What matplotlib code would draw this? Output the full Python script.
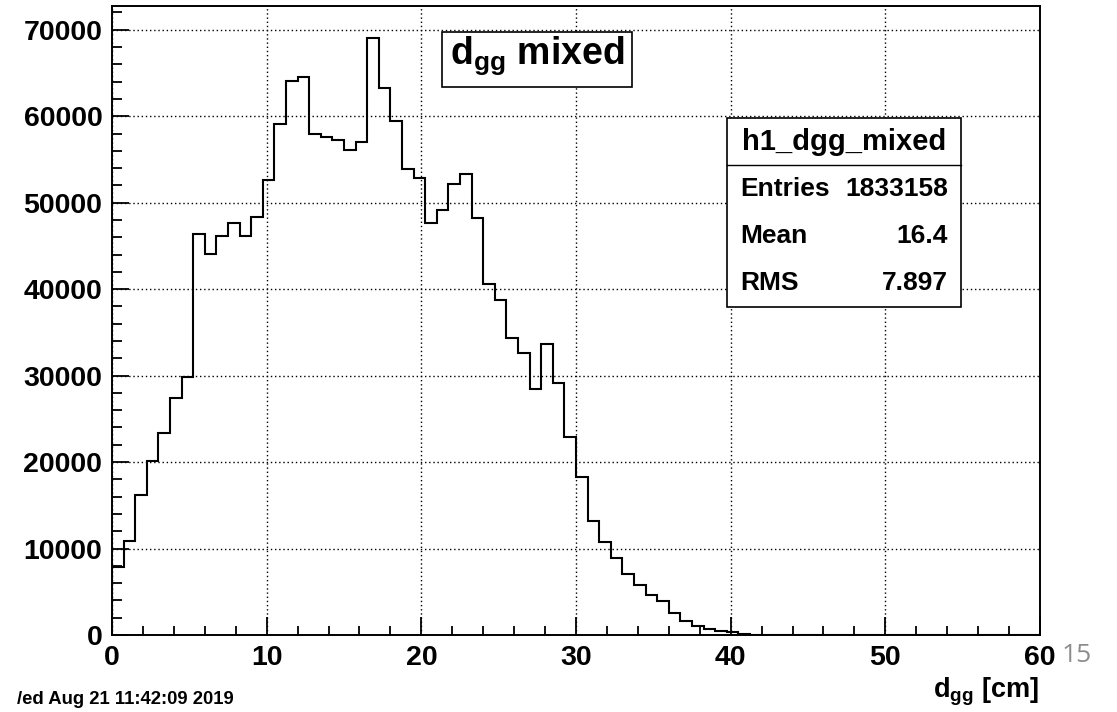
import matplotlib
matplotlib.use("Agg")
import matplotlib.pyplot as plt
import numpy as np
from matplotlib.patches import Rectangle
from matplotlib.ticker import MultipleLocator

# histogram h1_dgg_mixed: 80 bins on [0, 60]
X_MIN, X_MAX, N_BINS = 0.0, 60.0, 80
COUNTS = [
    7900, 10900, 16150, 20150, 23400, 27400, 29800, 46400, 44100, 46200,
    47700, 46200, 48300, 52600, 59100, 64100, 64500, 57900, 57600, 57200,
    56100, 57000, 69100, 63300, 59500, 53900, 52900, 47700, 49200, 52200,
    53300, 48200, 40600, 38800, 34300, 32600, 28400, 33700, 29100, 22900,
    18300, 13200, 10700, 8900, 7100, 5750, 4600, 3950, 2500, 1650,
    1080, 700, 500, 300, 150, 50, 0, 0, 0, 0,
    0, 0, 0, 0, 0, 0, 0, 0, 0, 0,
    0, 0, 0, 0, 0, 0, 0, 0, 0, 0,
]
Y_MAX = 72750

STATS_NAME = "h1_dgg_mixed"
STATS_ROWS = [("Entries", "1833158"), ("Mean", "16.4"), ("RMS", "7.897")]
TITLE = r"$\mathbf{d}_{\mathbf{gg}}$ mixed"
XLABEL = r"$\mathbf{d}_{\mathbf{gg}}$ [cm]"
DATE = "/ed Aug 21 11:42:09 2019"
PAGE = "15"

W, H = 1117, 712
FONT = "Liberation Sans"

plt.rcParams["font.family"] = FONT
plt.rcParams["mathtext.fontset"] = "custom"
plt.rcParams["mathtext.bf"] = f"{FONT}:bold"
plt.rcParams["mathtext.rm"] = f"{FONT}:bold"


def fx(px):
    return px / W


def fy(py):
    return 1 - py / H


fig = plt.figure(figsize=(W / 100, H / 100), dpi=100)
ax = fig.add_axes([fx(112), fy(635), fx(1040) - fx(112), fy(6) - fy(635)])

edges = np.linspace(X_MIN, X_MAX, N_BINS + 1)
ax.stairs(COUNTS, edges, baseline=0, color="black", lw=1.5, zorder=3)

ax.set_xlim(X_MIN, X_MAX)
ax.set_ylim(0, Y_MAX)
ax.xaxis.set_major_locator(MultipleLocator(10))
ax.xaxis.set_minor_locator(MultipleLocator(2))
ax.yaxis.set_major_locator(MultipleLocator(10000))
ax.yaxis.set_minor_locator(MultipleLocator(2000))
ax.tick_params(axis="both", which="both", direction="in", width=1.3,
               labelsize=20.5, pad=7)
ax.tick_params(axis="x", which="major", length=13)
ax.tick_params(axis="x", which="minor", length=6.5)
ax.tick_params(axis="y", which="major", length=12)
ax.tick_params(axis="y", which="minor", length=7.5)
for lab in ax.get_xticklabels() + ax.get_yticklabels():
    lab.set_fontweight("bold")
for sp in ax.spines.values():
    sp.set_linewidth(1.4)
ax.grid(True, which="major", color="black", lw=1.0, ls=(0, (1, 2)))
ax.set_axisbelow(True)

# title box
fig.patches.append(Rectangle((fx(442), fy(87)), fx(632) - fx(442), fy(32) - fy(87),
                             transform=fig.transFigure, facecolor="white",
                             edgecolor="black", lw=1.2, zorder=5))
fig.text(fx(537), fy(56), TITLE, fontsize=27, fontweight="bold",
         ha="center", va="center", zorder=6)

# stats box
fig.patches.append(Rectangle((fx(727), fy(307)), fx(961) - fx(727), fy(118) - fy(307),
                             transform=fig.transFigure, facecolor="white",
                             edgecolor="black", lw=1.2, zorder=5))
fig.lines.append(plt.Line2D([fx(727), fx(961)], [fy(165), fy(165)],
                            transform=fig.transFigure, color="black", lw=1.0,
                            zorder=6))
fig.text(fx(844), fy(142), STATS_NAME, fontsize=21, fontweight="bold",
         ha="center", va="center", zorder=6)
for i, (name, val) in enumerate(STATS_ROWS):
    yy = 189 + i * 47
    fig.text(fx(740), fy(yy), name, fontsize=19, fontweight="bold",
             ha="left", va="center", zorder=6)
    fig.text(fx(948), fy(yy), val, fontsize=19, fontweight="bold",
             ha="right", va="center", zorder=6)

# axis label, date stamp and slide page number
fig.text(fx(1039), fy(692), XLABEL, fontsize=19.5, fontweight="bold",
         ha="right", va="center")
fig.text(fx(17), fy(699), DATE, fontsize=13.3, fontweight="bold",
         ha="left", va="center")
fig.text(fx(1062), fy(655), PAGE, fontsize=19, color="#8c8c8c",
         family="Open Sans", ha="left", va="center")

fig.savefig("out.png", dpi=100)
